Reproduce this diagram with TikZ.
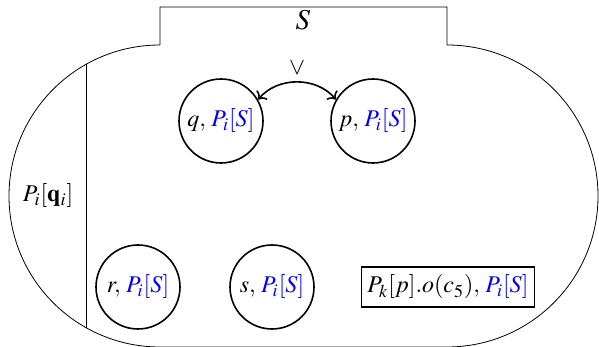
\documentclass[tikz,border=0pt]{standalone}
\usepackage{mathptmx}
\usetikzlibrary{positioning,arrows.meta,calc}
\usepackage{xcolor}

\begin{document}
\begin{tikzpicture}[
      x=0.5pt, y=0.5pt,
      font=\large,
      proc/.style={draw, circle, thick, minimum size=42pt, inner sep=0pt},
      msg/.style={draw, rectangle, thick, inner sep=3pt, minimum height=20pt},
      link/.style={<->, thick},
    ]
    \useasboundingbox (0,0) rectangle (599,347);

    % outline: tab on top, two half circles at the ends
    \draw (160,302) -- (160,340) -- (447,340) -- (447,302)
      arc (90:-90:151) -- (160,0) arc (270:90:151);
    \node (sname) at (303,327) {\Large $S$};

    % left column
    \coordinate (ctop) at (86,283);
    \coordinate (cbot) at (86,19);
    \draw (ctop) -- (cbot);
    \node (pq) at (48,151) {$P_i[\mathbf{q}_i]$};

    % processes
    \node[proc] (q) at (221,226) {$q,\, \textcolor{blue}{P_i[S]}$};
    \node[proc] (p) at (373,226) {$p,\, \textcolor{blue}{P_i[S]}$};
    \node[proc] (r) at (138,60) {$r,\, \textcolor{blue}{P_i[S]}$};
    \node[proc] (s) at (272,60) {$s,\, \textcolor{blue}{P_i[S]}$};
    \node[msg] (m) at (448,60) {$P_k[p].o(c_5),\, \textcolor{blue}{P_i[S]}$};

    \draw[link] (q.30) to[bend left=50] node[above] {$\vee$} (p.150);
  \end{tikzpicture}
\end{document}
